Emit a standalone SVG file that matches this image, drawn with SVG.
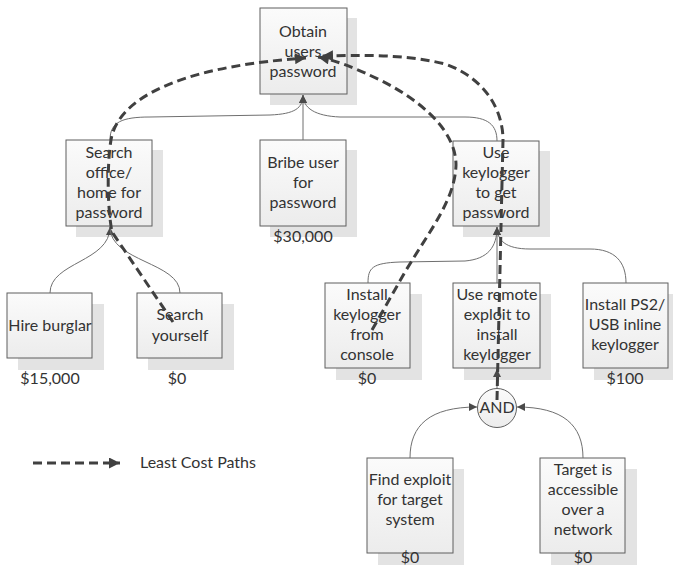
<svg xmlns="http://www.w3.org/2000/svg" width="673" height="565" viewBox="0 0 673 565">
<style>
.sh{fill:#e3e3e3}
.bx{fill:url(#g);stroke:#5f5f5f;stroke-width:1}
.t{font-family:Lato,"Open Sans","Liberation Sans",sans-serif;font-size:16px;fill:#333;text-anchor:middle}
.c{fill:none;stroke:#6f6f6f;stroke-width:1}
.d{fill:none;stroke:#404040;stroke-width:3;stroke-dasharray:9 5}
</style>
<defs>
<linearGradient id="g" x1="0" y1="0" x2="0" y2="1">
<stop offset="0" stop-color="#fbfbfb"/><stop offset="1" stop-color="#ececec"/>
</linearGradient>
<marker id="a" viewBox="0 0 10 10" refX="10" refY="5" markerWidth="8" markerHeight="8" markerUnits="userSpaceOnUse" orient="auto">
<path d="M0,0 L10,5 L0,10 z" fill="#4a4a4a"/>
</marker>
<marker id="ad" viewBox="0 0 10 10" refX="10" refY="5" markerWidth="13" markerHeight="11" markerUnits="userSpaceOnUse" orient="auto">
<path d="M0,0 L10,5 L0,10 z" fill="#404040"/>
</marker>
</defs>
<rect width="673" height="565" fill="#fff"/>

<g id="n-obtain">
<rect class="sh" x="270" y="18" width="87" height="87"/>
<rect class="bx" x="260" y="8" width="87" height="86"/>
<text class="t" x="303" y="37">Obtain</text>
<text class="t" x="303" y="57">users</text>
<text class="t" x="303" y="77">password</text>
</g>
<g id="n-search-office">
<rect class="sh" x="76" y="150" width="87" height="87"/>
<rect class="bx" x="66" y="140" width="86" height="86"/>
<text class="t" x="109" y="158">Search</text>
<text class="t" x="109" y="178">office/</text>
<text class="t" x="109" y="198">home for</text>
<text class="t" x="109" y="218">password</text>
</g>
<g id="n-bribe">
<rect class="sh" x="270" y="150" width="87" height="87"/>
<rect class="bx" x="260" y="140" width="86" height="86"/>
<text class="t" x="303" y="168">Bribe user</text>
<text class="t" x="303" y="188">for</text>
<text class="t" x="303" y="208">password</text>
<text class="t" x="303" y="242">$30,000</text>
</g>
<g id="n-use-keylogger">
<rect class="sh" x="463" y="151" width="87" height="86"/>
<rect class="bx" x="453" y="141" width="86" height="85"/>
<text class="t" x="496" y="158">Use</text>
<text class="t" x="496" y="178">keylogger</text>
<text class="t" x="496" y="198">to get</text>
<text class="t" x="496" y="218">password</text>
</g>
<g id="n-hire">
<rect class="sh" x="18" y="304" width="86" height="66"/>
<rect class="bx" x="7" y="293" width="85" height="65"/>
<text class="t" x="50" y="331">Hire burglar</text>
<text class="t" x="50" y="384">$15,000</text>
</g>
<g id="n-search-yourself">
<rect class="sh" x="148" y="304" width="86" height="66"/>
<rect class="bx" x="137" y="293" width="85" height="65"/>
<text class="t" x="180" y="320">Search</text>
<text class="t" x="180" y="341">yourself</text>
<text class="t" x="177" y="384">$0</text>
</g>
<g id="n-install-console">
<rect class="sh" x="336" y="294" width="86" height="86"/>
<rect class="bx" x="325" y="283" width="85" height="85"/>
<text class="t" x="367" y="300">Install</text>
<text class="t" x="367" y="320">keylogger</text>
<text class="t" x="367" y="340">from</text>
<text class="t" x="367" y="360">console</text>
<text class="t" x="367" y="384">$0</text>
</g>
<g id="n-remote">
<rect class="sh" x="464" y="294" width="87" height="86"/>
<rect class="bx" x="453" y="283" width="87" height="85"/>
<text class="t" x="497" y="300">Use remote</text>
<text class="t" x="497" y="320">exploit to</text>
<text class="t" x="497" y="340">install</text>
<text class="t" x="497" y="360">keylogger</text>
</g>
<g id="n-ps2">
<rect class="sh" x="594" y="294" width="79" height="86"/>
<rect class="bx" x="583" y="283" width="85" height="85"/>
<text class="t" x="625" y="310">Install PS2/</text>
<text class="t" x="625" y="330">USB inline</text>
<text class="t" x="625" y="350">keylogger</text>
<text class="t" x="625" y="384">$100</text>
</g>
<g id="n-and">
<circle cx="497" cy="408" r="19.5" fill="url(#g)" stroke="#5f5f5f" stroke-width="1"/>
<text class="t" x="497" y="413">AND</text>
</g>
<g id="n-find">
<rect class="sh" x="378" y="469" width="86" height="96"/>
<rect class="bx" x="367" y="458" width="86" height="95"/>
<text class="t" x="410" y="485">Find exploit</text>
<text class="t" x="410" y="505">for target</text>
<text class="t" x="410" y="525">system</text>
<text class="t" x="410" y="563">$0</text>
</g>
<g id="n-target">
<rect class="sh" x="551" y="469" width="86" height="96"/>
<rect class="bx" x="540" y="458" width="85" height="95"/>
<text class="t" x="583" y="475">Target is</text>
<text class="t" x="583" y="495">accessible</text>
<text class="t" x="583" y="515">over a</text>
<text class="t" x="583" y="535">network</text>
<text class="t" x="583" y="563">$0</text>
</g>

<g id="connectors">
<path class="c" d="M110,140 C110,122 122,117 150,117 L270,115 C295,114 303,108 303,95" marker-end="url(#a)"/>
<path class="c" d="M497,141 C497,125 488,117 465,117 L340,117 C315,116 303,108 303,95"/>
<path class="c" d="M303,140 L303,95" marker-end="url(#a)"/>
<path class="c" d="M50,293 C50,262 110,262 110,227" marker-end="url(#a)"/>
<path class="c" d="M180,293 C180,262 110,262 110,227"/>
<path class="c" d="M368,283 C368,268 372,263 400,262 L465,261 C488,259 497,247 497,227" marker-end="url(#a)"/>
<path class="c" d="M626,283 C626,262 615,249 590,249 L530,249 C505,249 497,240 497,227"/>
<path class="c" d="M497,283 L497,227" marker-end="url(#a)"/>
<path class="c" d="M497,388 L497,369" marker-end="url(#a)"/>
<path class="c" d="M410,458 C410,425 430,407 477,407" marker-end="url(#a)"/>
<path class="c" d="M583,458 C583,425 563,407 517,407" marker-end="url(#a)"/>
</g>

<g id="least-cost-paths">
<path class="d" d="M173,322 L112,232 C106,200 108,150 112,135 C125,90 200,65 306,58" marker-end="url(#ad)"/>
<path class="d" d="M372,330 L405,272 C430,230 455,200 456,165 C456,130 420,100 380,80 C355,68 335,60 318,57" marker-end="url(#ad)"/>
<path class="d" d="M497,400 L503,140 C503,110 485,78 445,64 C405,54 360,55 322,56" marker-end="url(#ad)"/>
</g>

<g id="legend">
<path class="d" d="M33,463 L120,463" marker-end="url(#ad)"/>
<text class="t" x="140" y="468" style="text-anchor:start">Least Cost Paths</text>
</g>
</svg>
